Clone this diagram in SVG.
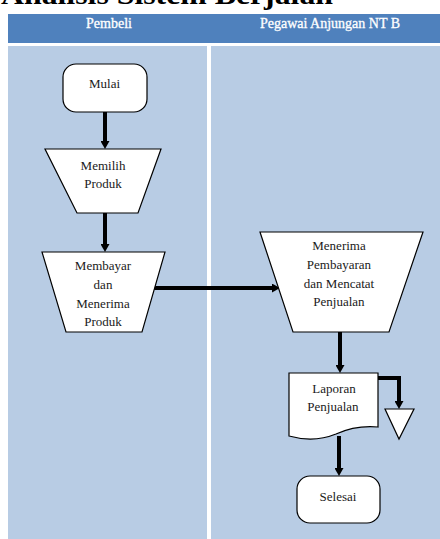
<svg xmlns="http://www.w3.org/2000/svg" width="440" height="539" viewBox="0 0 440 539">
<defs>
<style>
.lane{fill:#b8cce4}
.hdr{fill:#4f81bd}
.ht{font-family:"Liberation Serif",serif;font-size:14px;fill:#ffffff;stroke:#ffffff;stroke-width:0.3;text-anchor:middle}
.nt{font-family:"Liberation Serif",serif;font-size:13px;fill:#1a1a1a;text-anchor:middle}
.shape{fill:#ffffff;stroke:#000000;stroke-width:1.2}
.conn{fill:none;stroke:#000000;stroke-width:4}
.title{font-family:"Liberation Serif",serif;font-size:28px;font-weight:bold;fill:#000000}
</style>
<marker id="arr" markerUnits="userSpaceOnUse" viewBox="0 0 8 9" markerWidth="8" markerHeight="9" refX="1" refY="4.5" orient="auto">
<path d="M0,0 L8,4.5 L0,9 z" fill="#000000"/>
</marker>
</defs>
<rect width="440" height="539" fill="#ffffff"/>
<text class="title" x="1" y="4" textLength="332" lengthAdjust="spacingAndGlyphs">Analisis Sistem Berjalan</text>
<g id="swimlanes">
<rect class="hdr" x="8" y="14" width="432" height="29"/>
<text class="ht" x="109" y="28">Pembeli</text>
<text class="ht" x="330" y="28">Pegawai Anjungan NT B</text>
<rect class="lane" x="8" y="46" width="199" height="493"/>
<rect class="lane" x="211" y="46" width="229" height="493"/>
</g>
<g id="connectors">
<line class="conn" x1="105" y1="112" x2="105" y2="142" marker-end="url(#arr)"/>
<line class="conn" x1="105" y1="213" x2="105" y2="245" marker-end="url(#arr)"/>
<line class="conn" x1="152" y1="288" x2="273" y2="288" marker-end="url(#arr)"/>
<line class="conn" x1="340" y1="332" x2="340" y2="366" marker-end="url(#arr)"/>
<polyline class="conn" points="378,378 399,378 399,402" marker-end="url(#arr)"/>
<line class="conn" x1="339" y1="436" x2="339" y2="469" marker-end="url(#arr)"/>
</g>
<g id="mulai">
<rect class="shape" x="63" y="64" width="84" height="48" rx="13"/>
<text class="nt" x="104.5" y="88">Mulai</text>
</g>
<g id="memilih-produk">
<polygon class="shape" points="45,149 161,149 138,213 77,213"/>
<text class="nt" x="103" y="170">Memilih</text>
<text class="nt" x="103" y="188">Produk</text>
</g>
<g id="membayar">
<polygon class="shape" points="42,252 165,252 142,332 66,332"/>
<text class="nt" x="103" y="270">Membayar</text>
<text class="nt" x="103" y="289">dan</text>
<text class="nt" x="103" y="308">Menerima</text>
<text class="nt" x="103" y="326">Produk</text>
</g>
<g id="menerima-pembayaran">
<polygon class="shape" points="260,232 423,232 389,332 293,332"/>
<text class="nt" x="339" y="250">Menerima</text>
<text class="nt" x="339" y="269">Pembayaran</text>
<text class="nt" x="339" y="288">dan Mencatat</text>
<text class="nt" x="339" y="306">Penjualan</text>
</g>
<g id="laporan-penjualan">
<path class="shape" d="M289,373 H378 V427 Q356,425 336,434 Q314,443 289,436 Z"/>
<text class="nt" x="334" y="393">Laporan</text>
<text class="nt" x="333" y="411">Penjualan</text>
</g>
<g id="arsip">
<polygon class="shape" points="385,409 414,409 399,439"/>
</g>
<g id="selesai">
<rect class="shape" x="297" y="476" width="83" height="47" rx="13"/>
<text class="nt" x="338" y="501">Selesai</text>
</g>
</svg>
